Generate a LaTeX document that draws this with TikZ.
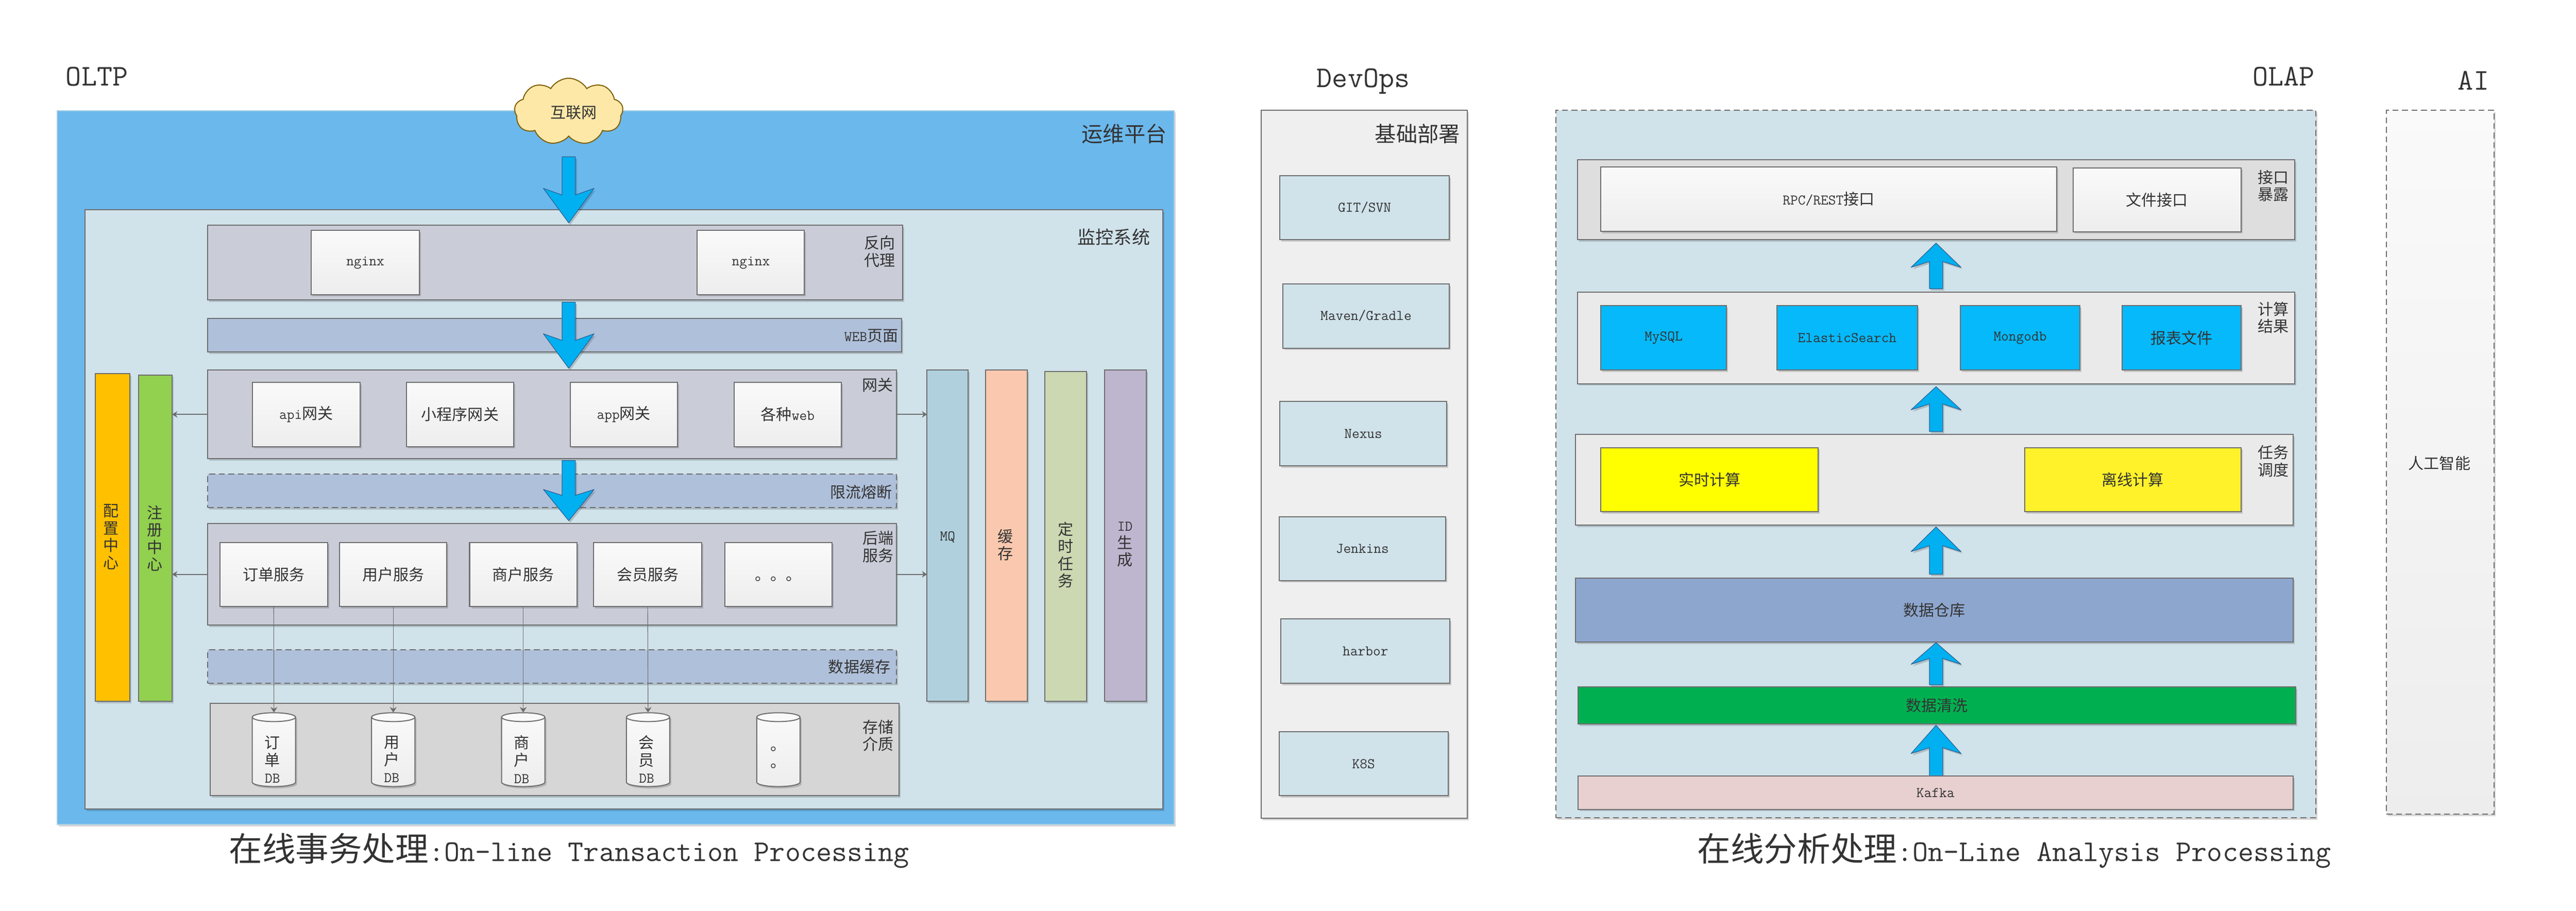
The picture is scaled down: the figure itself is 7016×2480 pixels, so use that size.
\documentclass[tikz,border=0pt]{standalone}
\usepackage{fontspec}
\setmainfont{Noto Sans CJK SC}
\setmonofont[Scale=0.952]{Latin Modern Mono}
\usetikzlibrary{arrows.meta,fit,shadows,shapes.symbols}

\definecolor{linegray}{HTML}{6D6D6D}
\definecolor{textgray}{HTML}{333333}
\definecolor{opsblue}{HTML}{6BB8EC}
\definecolor{opsedge}{HTML}{A8D0E4}
\definecolor{paleblue}{HTML}{D0E2EA}
\definecolor{bandgray}{HTML}{CACDD8}
\definecolor{bandblue}{HTML}{AFC0DA}
\definecolor{storegray}{HTML}{D6D6D6}
\definecolor{lightgray}{HTML}{EAEAEA}
\definecolor{portgray}{HTML}{DEDEDE}
\definecolor{devgray}{HTML}{EFEFEF}
\definecolor{cloudfill}{HTML}{FEE8A8}
\definecolor{cloudedge}{HTML}{7F6000}
\definecolor{arrowfill}{HTML}{00B0F0}
\definecolor{arrowedge}{HTML}{2F6294}
\definecolor{skyfill}{HTML}{05B9FB}
\definecolor{configfill}{HTML}{FFC000}
\definecolor{registryfill}{HTML}{92D050}
\definecolor{mqfill}{HTML}{B0D0DE}
\definecolor{cachefill}{HTML}{FAC8AE}
\definecolor{timerfill}{HTML}{CBD8B2}
\definecolor{idfill}{HTML}{BEB5CE}
\definecolor{realtimefill}{RGB}{255,255,0}
\definecolor{offlinefill}{HTML}{FFF12A}
\definecolor{storefill}{HTML}{8DA6CE}
\definecolor{cleanfill}{HTML}{00B050}
\definecolor{kafkafill}{HTML}{E8D0D0}

\newcommand{\smallfont}{\fontsize{12pt}{13.4pt}\selectfont}
\newcommand{\midfont}{\fontsize{16.5pt}{19pt}\selectfont}
\newcommand{\bigfont}{\fontsize{24.5pt}{28pt}\selectfont}
\newcommand{\capfont}{\fontsize{25.8pt}{28pt}\selectfont}

\tikzset{
	shadowed/.style={drop shadow={shadow xshift=1.2pt,shadow yshift=-1.5pt,opacity=.16,fill=black}},
	lowered/.style={execute at begin node={\lower#1\hbox\bgroup},execute at end node={\egroup}},
	boxbase/.style={draw=linegray,line width=.8pt,inner sep=0pt,outer sep=0pt,font=\smallfont,text=textgray,shadowed},
	plain/.style={boxbase,lowered=10.2pt},
	monoplain/.style={boxbase,font=\smallfont\ttfamily,lowered=7.4pt},
	dashline/.style={dash pattern=on 4.6pt off 2.8pt},
	softshade/.style={top color=white!98!black,bottom color=white!93!black},
	card/.style={plain,softshade},
	monocard/.style={monoplain,softshade},
	tag/.style={inner sep=0pt,outer sep=0pt,font=\smallfont,text=textgray,align=center},
	midtag/.style={tag,font=\midfont},
	bigtag/.style={tag,font=\bigfont},
	blockarrow/.style={draw=arrowedge,fill=arrowfill,line width=.5pt,line join=round,shadowed},
	link/.style={draw=linegray,line width=.45pt,-{Stealth[length=4.3pt,width=5.4pt]}},
	sidelink/.style={draw=linegray,line width=.8pt,-{Stealth[length=4pt,width=5pt]}},
	dbspot/.style={inner sep=0pt,outer sep=0pt,minimum height=20.1mm,minimum width=11.8mm},
	dbshell/.style={draw=linegray,line width=.8pt,softshade,shadowed},
	dbrim/.style={draw=linegray,line width=.8pt}
}

\begin{document}
\begin{tikzpicture}[x=.1mm,y=-.1mm]
	\useasboundingbox (0,0) rectangle (7016,2480);

	\node[plain,draw=opsedge,fill=opsblue,fit={(156,301)(3198,2245)}] (opsplatform) {};
	\node[cloud,cloud puffs=9,cloud puff arc=120,cloud ignores aspect,draw=cloudedge,fill=cloudfill,line width=.8pt,inner sep=0pt,minimum width=29.6mm,minimum height=18.2mm] (internet) at (1549,304) {};
	\node[tag] (internettext) at (1563,307) {互联网};
	\node[plain,fill=paleblue,fit={(231,571)(3167,2203)}] (monitor) {};

	\node[bigtag,font=\bigfont\ttfamily] (oltptitle) at (264,209) {OLTP};
	\node[midtag,anchor=east] (opslabel) at (3178,364) {运维平台};
	\node[tag,font=\fontsize{14pt}{16pt}\selectfont,anchor=east] (monitorlabel) at (3132,645) {监控系统};

	\node[plain,fill=bandgray,fit={(566,613)(2458,817)}] (proxy) {};
	\node[monocard,fit={(848,627)(1142,802)}] (nginxa) {nginx};
	\node[monocard,fit={(1899,627)(2191,802)}] (nginxb) {nginx};
	\node[tag] (proxylabel) at (2396,685) {反向\\代理};

	\node[plain,fill=bandblue,fit={(566,867)(2456,959)}] (webpage) {};
	\node[tag,anchor=east] (weblabel) at (2446,915) {{\ttfamily WEB}页面};

	\node[plain,fill=bandgray,fit={(566,1008)(2442,1249)}] (gateway) {};
	\node[card,fit={(687,1041)(981,1216)}] (apigate) {{\ttfamily api}网关};
	\node[card,fit={(1107,1041)(1399,1216)}] (minigate) {小程序网关};
	\node[card,fit={(1553,1041)(1845,1216)}] (appgate) {{\ttfamily app}网关};
	\node[card,fit={(2000,1041)(2291,1216)}] (webgate) {各种{\ttfamily web}};
	\node[tag] (gatelabel) at (2390,1049) {网关};

	\node[plain,dashline,fill=bandblue,fit={(566,1291)(2442,1382)}] (limiter) {};
	\node[tag,anchor=east] (limitlabel) at (2430,1340) {限流熔断};

	\node[plain,fill=bandgray,fit={(566,1426)(2442,1702)}] (backend) {};
	\node[card,fit={(599,1477)(892,1652)}] (orderbox) {订单服务};
	\node[card,fit={(925,1477)(1217,1652)}] (userbox) {用户服务};
	\node[card,fit={(1279,1477)(1571,1652)}] (shopbox) {商户服务};
	\node[card,fit={(1617,1477)(1911,1652)}] (memberbox) {会员服务};
	\node[card,fit={(1974,1477)(2266,1652)}] (morebox) {。。。};
	\node[tag] (backendlabel) at (2392,1489) {后端\\服务};

	\node[plain,dashline,fill=bandblue,fit={(566,1770)(2442,1861)}] (datacache) {};
	\node[tag,anchor=east] (cachelabel) at (2425,1816) {数据缓存};

	\node[plain,fill=storegray,fit={(572,1916)(2448,2167)}] (storage) {};
	\node[tag] (storelabel) at (2392,2003) {存储\\介质};
	\node[dbspot] (dba) at (746,2041) {};
	\node[dbspot] (dbb) at (1071,2041) {};
	\node[dbspot] (dbc) at (1425,2041) {};
	\node[dbspot] (dbd) at (1765,2041) {};
	\node[dbspot] (dbe) at (2120,2041) {};
	\draw[dbshell,shift={(dba.center)}] (-59,-88) arc (180:0:5.9mm and 1.2mm) -- (59,89) arc (0:-180:5.9mm and 1.2mm) -- cycle;
	\draw[dbrim,shift={(dba.center)}] (-59,-88) arc (180:360:5.9mm and 1.2mm);
	\draw[dbshell,shift={(dbb.center)}] (-59,-88) arc (180:0:5.9mm and 1.2mm) -- (59,89) arc (0:-180:5.9mm and 1.2mm) -- cycle;
	\draw[dbrim,shift={(dbb.center)}] (-59,-88) arc (180:360:5.9mm and 1.2mm);
	\draw[dbshell,shift={(dbc.center)}] (-59,-88) arc (180:0:5.9mm and 1.2mm) -- (59,89) arc (0:-180:5.9mm and 1.2mm) -- cycle;
	\draw[dbrim,shift={(dbc.center)}] (-59,-88) arc (180:360:5.9mm and 1.2mm);
	\draw[dbshell,shift={(dbd.center)}] (-59,-88) arc (180:0:5.9mm and 1.2mm) -- (59,89) arc (0:-180:5.9mm and 1.2mm) -- cycle;
	\draw[dbrim,shift={(dbd.center)}] (-59,-88) arc (180:360:5.9mm and 1.2mm);
	\draw[dbshell,shift={(dbe.center)}] (-59,-88) arc (180:0:5.9mm and 1.2mm) -- (59,89) arc (0:-180:5.9mm and 1.2mm) -- cycle;
	\draw[dbrim,shift={(dbe.center)}] (-59,-88) arc (180:360:5.9mm and 1.2mm);
	\node[tag] (dbatext) at (742,2068) {订\\单\\{\ttfamily DB}};
	\node[tag] (dbbtext) at (1067,2068) {用\\户\\{\ttfamily DB}};
	\node[tag] (dbctext) at (1421,2068) {商\\户\\{\ttfamily DB}};
	\node[tag] (dbdtext) at (1761,2068) {会\\员\\{\ttfamily DB}};
	\node[tag] (dbetext) at (2120,2063) {。\\。};

	\node[plain,fill=configfill,fit={(260,1017)(353,1910)}] (config) {};
	\node[plain,fill=registryfill,fit={(378,1021)(469,1910)}] (registry) {};
	\node[tag] (configtext) at (303,1462) {配\\置\\中\\心};
	\node[tag] (registrytext) at (421,1466) {注\\册\\中\\心};

	\node[plain,fill=mqfill,fit={(2525,1008)(2637,1910)}] (mq) {};
	\node[plain,fill=cachefill,fit={(2684,1008)(2798,1910)}] (rediscache) {};
	\node[plain,fill=timerfill,fit={(2846,1011)(2960,1910)}] (timer) {};
	\node[plain,fill=idfill,fit={(3008,1008)(3122,1910)}] (idgen) {};
	\node[tag,font=\smallfont\ttfamily] (mqtext) at (2581,1463) {MQ};
	\node[tag] (cachetext) at (2738,1484) {缓\\存};
	\node[tag] (timertext) at (2902,1511) {定\\时\\任\\务};
	\node[tag] (idtext) at (3064,1483) {{\ttfamily ID}\\生\\成};

	\draw[blockarrow] (1531,427) -- (1531,531) -- (1480,513) -- (1549,607) -- (1618,513) -- (1567,531) -- (1567,427) -- cycle;
	\draw[blockarrow] (1531,823) -- (1531,927) -- (1480,909) -- (1549,1003) -- (1618,909) -- (1567,927) -- (1567,823) -- cycle;
	\draw[blockarrow] (1531,1254) -- (1531,1349) -- (1480,1333) -- (1549,1418) -- (1618,1333) -- (1567,1349) -- (1567,1254) -- cycle;

	\draw[sidelink] (gateway.west) -- (gateway.west -| registry.east);
	\draw[sidelink] (gateway.east) -- (gateway.east -| mq.west);
	\draw[sidelink] (backend.west) -- (backend.west -| registry.east);
	\draw[sidelink] (backend.east) -- (backend.east -| mq.west);
	\draw[link] (orderbox.south) -- (dba.north);
	\draw[link] (userbox.south) -- (dbb.north);
	\draw[link] (shopbox.south) -- (dbc.north);
	\draw[link] (memberbox.south) -- (dbd.north);

	\node[bigtag] (oltpcaption) at (1550,2317) {{\capfont 在线事务处理}{\ttfamily :On-line Transaction Processing}};

	\node[bigtag,font=\bigfont\ttfamily] (devopstitle) at (3713,222) {DevOps};
	\node[plain,fill=devgray,fit={(3435,300)(3996,2228)}] (devops) {};
	\node[midtag,anchor=east] (devopslabel) at (3977,364) {基础部署};
	\node[monoplain,fill=paleblue,fit={(3486,479)(3947,653)}] (gitbox) {GIT/SVN};
	\node[monoplain,fill=paleblue,fit={(3494,773)(3947,948)}] (mavenbox) {Maven/Gradle};
	\node[monoplain,fill=paleblue,fit={(3486,1093)(3940,1269)}] (nexusbox) {Nexus};
	\node[monoplain,fill=paleblue,fit={(3484,1407)(3937,1581)}] (jenkinsbox) {Jenkins};
	\node[monoplain,fill=paleblue,fit={(3489,1685)(3949,1861)}] (harborbox) {harbor};
	\node[monoplain,fill=paleblue,fit={(3484,1992)(3944,2167)}] (k8sbox) {K8S};

	\node[bigtag,font=\bigfont\ttfamily,anchor=east] (olaptitle) at (6304,209) {OLAP};
	\node[plain,dashline,fill=paleblue,fit={(4237,300)(6307,2227)}] (olap) {};

	\node[plain,fill=portgray,fit={(4296,435)(6250,653)}] (expose) {};
	\node[card,fit={(4360,454)(5601,630)}] (rpcbox) {{\ttfamily RPC/REST}接口};
	\node[card,fit={(5646,457)(6104,631)}] (filebox) {文件接口};
	\node[tag] (exposelabel) at (6191,506) {接口\\暴露};

	\node[plain,fill=lightgray,fit={(4296,795)(6250,1045)}] (result) {};
	\node[monoplain,fill=skyfill,fit={(4360,832)(4702,1008)}] (mysqlbox) {MySQL};
	\node[monoplain,fill=skyfill,fit={(4839,832)(5223,1008)}] (esbox) {ElasticSearch};
	\node[monoplain,fill=skyfill,fit={(5339,832)(5665,1008)}] (mongobox) {Mongodb};
	\node[plain,fill=skyfill,fit={(5780,832)(6104,1008)}] (reportbox) {报表文件};
	\node[tag] (resultlabel) at (6191,865) {计算\\结果};

	\node[plain,fill=lightgray,fit={(4291,1183)(6245,1430)}] (schedule) {};
	\node[plain,fill=realtimefill,fit={(4360,1219)(4952,1393)}] (realtime) {实时计算};
	\node[plain,fill=offlinefill,fit={(5514,1219)(6104,1393)}] (offline) {离线计算};
	\node[tag] (schedulelabel) at (6191,1256) {任务\\调度};

	\node[plain,fill=storefill,fit={(4291,1574)(6245,1749)}] (warehouse) {数据仓库};
	\node[plain,fill=cleanfill,fit={(4298,1871)(6252,1972)}] (cleaning) {数据清洗};

	\draw[blockarrow] (5255,786) -- (5255,712) -- (5205,728) -- (5273,662) -- (5341,728) -- (5291,712) -- (5291,786) -- cycle;
	\draw[blockarrow] (5255,1175) -- (5255,1100) -- (5205,1116) -- (5273,1053) -- (5341,1116) -- (5291,1100) -- (5291,1175) -- cycle;
	\draw[blockarrow] (5255,1564) -- (5255,1486) -- (5205,1502) -- (5273,1435) -- (5341,1502) -- (5291,1486) -- (5291,1564) -- cycle;
	\draw[blockarrow] (5255,1865) -- (5255,1793) -- (5205,1809) -- (5273,1750) -- (5341,1809) -- (5291,1793) -- (5291,1865) -- cycle;
	\draw[blockarrow] (5255,2113) -- (5255,2036) -- (5205,2052) -- (5273,1975) -- (5341,2052) -- (5291,2036) -- (5291,2113) -- cycle;

	\node[monoplain,fill=kafkafill,fit={(4298,2113)(6245,2204)}] (kafka) {Kafka};

	\node[bigtag] (olapcaption) at (5486,2317) {{\capfont 在线分析处理}{\ttfamily :On-Line Analysis Processing}};

	\node[bigtag,font=\bigfont\ttfamily,anchor=east] (aititle) at (6779,219) {AI};
	\node[plain,dashline,softshade,fit={(6500,300)(6793,2217)}] (aipanel) {};
	\node[tag] (aitext) at (6644,1262) {人工智能};
\end{tikzpicture}
\end{document}
